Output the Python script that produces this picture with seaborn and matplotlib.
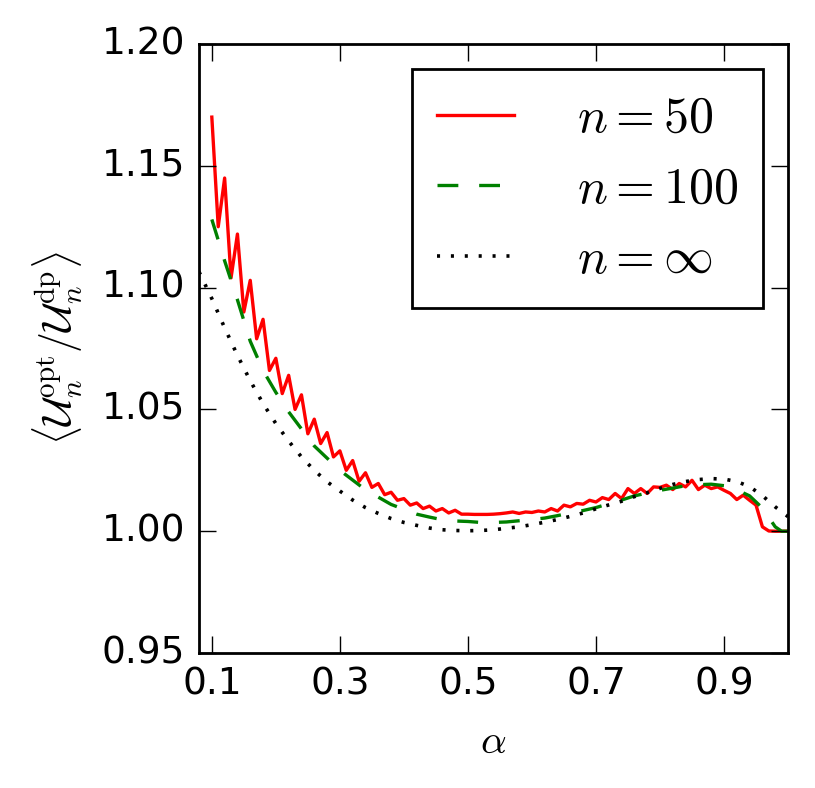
import pandas as pd
import seaborn as sns
import matplotlib.pyplot as plt

# n = 50 (step 0.01 in alpha)
alpha_50 = [round(0.10 + 0.01 * i, 2) for i in range(91)]
ratio_50 = [
    1.170, 1.125, 1.145, 1.104, 1.122, 1.090, 1.103, 1.079, 1.087, 1.066,
    1.071, 1.0565, 1.064, 1.050, 1.056, 1.040, 1.046, 1.036, 1.0405, 1.0305,
    1.033, 1.025, 1.029, 1.0205, 1.024, 1.018, 1.0196, 1.015, 1.016, 1.0127,
    1.0134, 1.0107, 1.0116, 1.0093, 1.0103, 1.0083, 1.0093, 1.0075, 1.0086, 1.0070,
    1.0070, 1.0069, 1.0069, 1.0069, 1.0070, 1.0072, 1.0075, 1.0079, 1.0073, 1.0079,
    1.0077, 1.0083, 1.0079, 1.0093, 1.0083, 1.0107, 1.0100, 1.0114, 1.0111, 1.0127,
    1.0120, 1.0138, 1.0130, 1.0155, 1.0134, 1.0175, 1.0155, 1.0175, 1.0155, 1.0182,
    1.0180, 1.0189, 1.0171, 1.0196, 1.0182, 1.0209, 1.0171, 1.0189, 1.0175, 1.0182,
    1.0168, 1.0155, 1.0130, 1.0148, 1.0127, 1.0107, 1.0018, 1.0001, 1.0000, 1.0000,
    1.0000,
]

# n = 100
alpha_100 = [0.10, 0.12, 0.14, 0.16, 0.18, 0.20, 0.22, 0.24, 0.26, 0.28,
             0.30, 0.32, 0.34, 0.36, 0.38, 0.40, 0.42, 0.44, 0.46, 0.48,
             0.50, 0.52, 0.54, 0.56, 0.58, 0.60, 0.62, 0.64, 0.66, 0.68,
             0.70, 0.72, 0.74, 0.76, 0.78, 0.80, 0.82, 0.84, 0.86, 0.88,
             0.90, 0.92, 0.94, 0.96, 0.98, 0.99, 1.00]
ratio_100 = [1.128, 1.111, 1.095, 1.078, 1.066, 1.057, 1.049, 1.042, 1.035, 1.030,
             1.025, 1.021, 1.017, 1.014, 1.011, 1.009, 1.007, 1.0058, 1.0047, 1.0042,
             1.0040, 1.0036, 1.0036, 1.0038, 1.0043, 1.0048, 1.0054, 1.0064, 1.0075, 1.0085,
             1.0097, 1.0113, 1.0128, 1.0145, 1.0157, 1.0168, 1.0177, 1.0187, 1.0191, 1.0193,
             1.0187, 1.0170, 1.0145, 1.0095, 1.0018, 1.0000, 1.0000]

# n = infinity
alpha_inf = [0.08, 0.10, 0.12, 0.14, 0.16, 0.18, 0.20, 0.22, 0.24, 0.26,
             0.28, 0.30, 0.32, 0.34, 0.36, 0.38, 0.40, 0.42, 0.44, 0.46,
             0.48, 0.50, 0.52, 0.54, 0.56, 0.58, 0.60, 0.62, 0.64, 0.66,
             0.68, 0.70, 0.72, 0.74, 0.76, 0.78, 0.80, 0.82, 0.84, 0.86,
             0.88, 0.90, 0.92, 0.94, 0.96, 0.98, 1.00]
ratio_inf = [1.1065, 1.0955, 1.0835, 1.0722, 1.0618, 1.0524, 1.0442, 1.0370, 1.0305, 1.0250,
             1.0203, 1.0165, 1.0128, 1.0097, 1.0073, 1.0052, 1.0036, 1.0024, 1.0013, 1.0006,
             1.0003, 1.0002, 1.0003, 1.0006, 1.0012, 1.0018, 1.0027, 1.0037, 1.0048, 1.0061,
             1.0075, 1.0092, 1.0108, 1.0123, 1.0142, 1.0158, 1.0176, 1.0192, 1.0204, 1.0212,
             1.0216, 1.0214, 1.0204, 1.0183, 1.0146, 1.0100, 1.0060]

x_ticks = [0.1, 0.3, 0.5, 0.7, 0.9]
y_ticks = [0.95, 1.00, 1.05, 1.10, 1.15, 1.20]

plt.style.use("classic")
plt.rcParams["mathtext.fontset"] = "cm"
plt.rcParams["font.family"] = ["DejaVu Sans"]
plt.rcParams["lines.scale_dashes"] = False

fig = plt.figure(figsize=(8.15, 7.88), dpi=100, facecolor="white")
ax = fig.add_axes([0.2442, 0.1713, 0.7227, 0.7728])

df50 = pd.DataFrame({"alpha": alpha_50, "ratio": ratio_50})
df100 = pd.DataFrame({"alpha": alpha_100, "ratio": ratio_100})
dfinf = pd.DataFrame({"alpha": alpha_inf, "ratio": ratio_inf})

sns.lineplot(data=df50, x="alpha", y="ratio", ax=ax, color="#ff0000",
             linewidth=2.4, label=r"$n=50$")
sns.lineplot(data=df100, x="alpha", y="ratio", ax=ax, color="#008000",
             linewidth=2.4, linestyle=(0, (15, 15)), label=r"$n=100$")
sns.lineplot(data=dfinf, x="alpha", y="ratio", ax=ax, color="black",
             linewidth=2.6, linestyle=(0, (2.2, 7.8)), label=r"$n=\infty$")

ax.set_xlim(0.08, 1.0)
ax.set_ylim(0.95, 1.20)
ax.set_xticks(x_ticks)
ax.set_yticks(y_ticks)
ax.set_xticklabels(["0.1", "0.3", "0.5", "0.7", "0.9"])
ax.set_yticklabels(["%.2f" % v for v in y_ticks])
ax.tick_params(axis="both", which="major", direction="in", length=12, width=1,
               labelsize=27, pad=10, top=True, right=True)
ax.minorticks_off()
for sp in ax.spines.values():
    sp.set_linewidth(2)

ax.set_xlabel(r"$\alpha$", fontsize=29, labelpad=14)
ax.set_ylabel(r"$\langle \mathcal{U}_n^{\rm opt}/\mathcal{U}_n^{\rm dp}\rangle$",
              fontsize=30, labelpad=12)

leg = ax.legend(loc="upper right", fontsize=36, frameon=True, fancybox=False,
                handlelength=1.55, handletextpad=1.25, borderpad=0.5,
                labelspacing=0.45, borderaxespad=0.5, numpoints=1)
leg.get_frame().set_linewidth(2)
leg.get_frame().set_edgecolor("black")

fig.savefig("out.png", dpi=100, facecolor="white")
